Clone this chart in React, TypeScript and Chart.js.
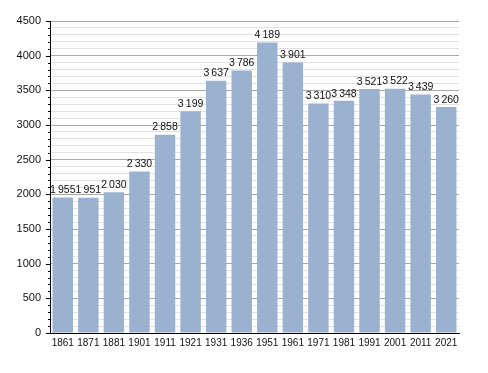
import React, { useEffect, useRef } from "react";
import { Chart, registerables } from "chart.js";

Chart.register(...registerables);

const years = ["1861","1871","1881","1901","1911","1921","1931","1936","1951","1961","1971","1981","1991","2001","2011","2021"];
const population = [1955,1951,2030,2330,2858,3199,3637,3786,4189,3901,3310,3348,3521,3522,3439,3260];
const yMax = 4500;
const yStep = 100;
const yMajor = 500;

const FONT = "'Liberation Sans', Arial, sans-serif";

const fmt = (v: number) => {
  const s = String(v);
  return s.length > 3 ? s.slice(0, s.length - 3) + "\u202F" + s.slice(s.length - 3) : s;
};

const extras = {
  id: "extras",
  afterDatasetsDraw(chart: any) {
    const ctx = chart.ctx;
    const y = chart.scales.y;
    const left = chart.chartArea.left;
    ctx.save();
    ctx.strokeStyle = "#000";
    ctx.lineWidth = 1;
    for (let v = 0; v <= yMax; v += yStep) {
      const py = Math.round(y.getPixelForValue(v)) + 0.5;
      const len = v % yMajor === 0 ? 4 : 2;
      ctx.beginPath();
      ctx.moveTo(left - len, py);
      ctx.lineTo(left, py);
      ctx.stroke();
    }
    const meta = chart.getDatasetMeta(0);
    ctx.fillStyle = "#111";
    ctx.font = `10.5px ${FONT}`;
    ctx.textAlign = "center";
    ctx.textBaseline = "bottom";
    meta.data.forEach((bar: any, i: number) => {
      ctx.fillText(fmt(population[i]), bar.x, bar.y - 2);
    });
    ctx.restore();
  },
};

export default function App() {
  const ref = useRef<HTMLCanvasElement>(null);
  useEffect(() => {
    if (!ref.current) return;
    const chart = new Chart(ref.current, {
      type: "bar",
      data: {
        labels: years,
        datasets: [
          {
            data: population,
            backgroundColor: "#9ab2cf",
            borderWidth: 0,
            categoryPercentage: 1,
            barPercentage: 0.8,
          },
        ],
      },
      options: {
        animation: false,
        responsive: false,
        maintainAspectRatio: false,
        layout: { padding: { top: 21, right: 29, bottom: 20, left: 0 } },
        plugins: { legend: { display: false }, tooltip: { enabled: false } },
        scales: {
          x: {
            grid: { display: false, drawTicks: false },
            border: { color: "#000", width: 1 },
            ticks: { color: "#111", font: { family: FONT, size: 10 }, padding: 4, maxRotation: 0, autoSkip: false },
            afterFit: (s: any) => { s.height = 20; },
          },
          y: {
            min: 0,
            max: yMax,
            grid: {
              drawTicks: false,
              color: (c: any) => (c.tick && c.tick.value % yMajor === 0 ? "#a8a8a8" : "#e2e2e2"),
            },
            border: { color: "#000", width: 1 },
            ticks: {
              stepSize: yStep,
              autoSkip: false,
              color: "#111",
              font: { family: FONT, size: 11 },
              padding: 9,
              callback: (v: any) => (Number(v) % yMajor === 0 ? String(v) : ""),
            },
            afterFit: (s: any) => { s.width = 50; },
          },
        },
      },
      plugins: [extras],
    });
    return () => chart.destroy();
  }, []);
  return (
    <div style={{ position: "fixed", left: 0, top: 0, width: 488, height: 373, background: "#fff" }}>
      <canvas ref={ref} width={488} height={373} style={{ width: 488, height: 373 }} />
    </div>
  );
}
